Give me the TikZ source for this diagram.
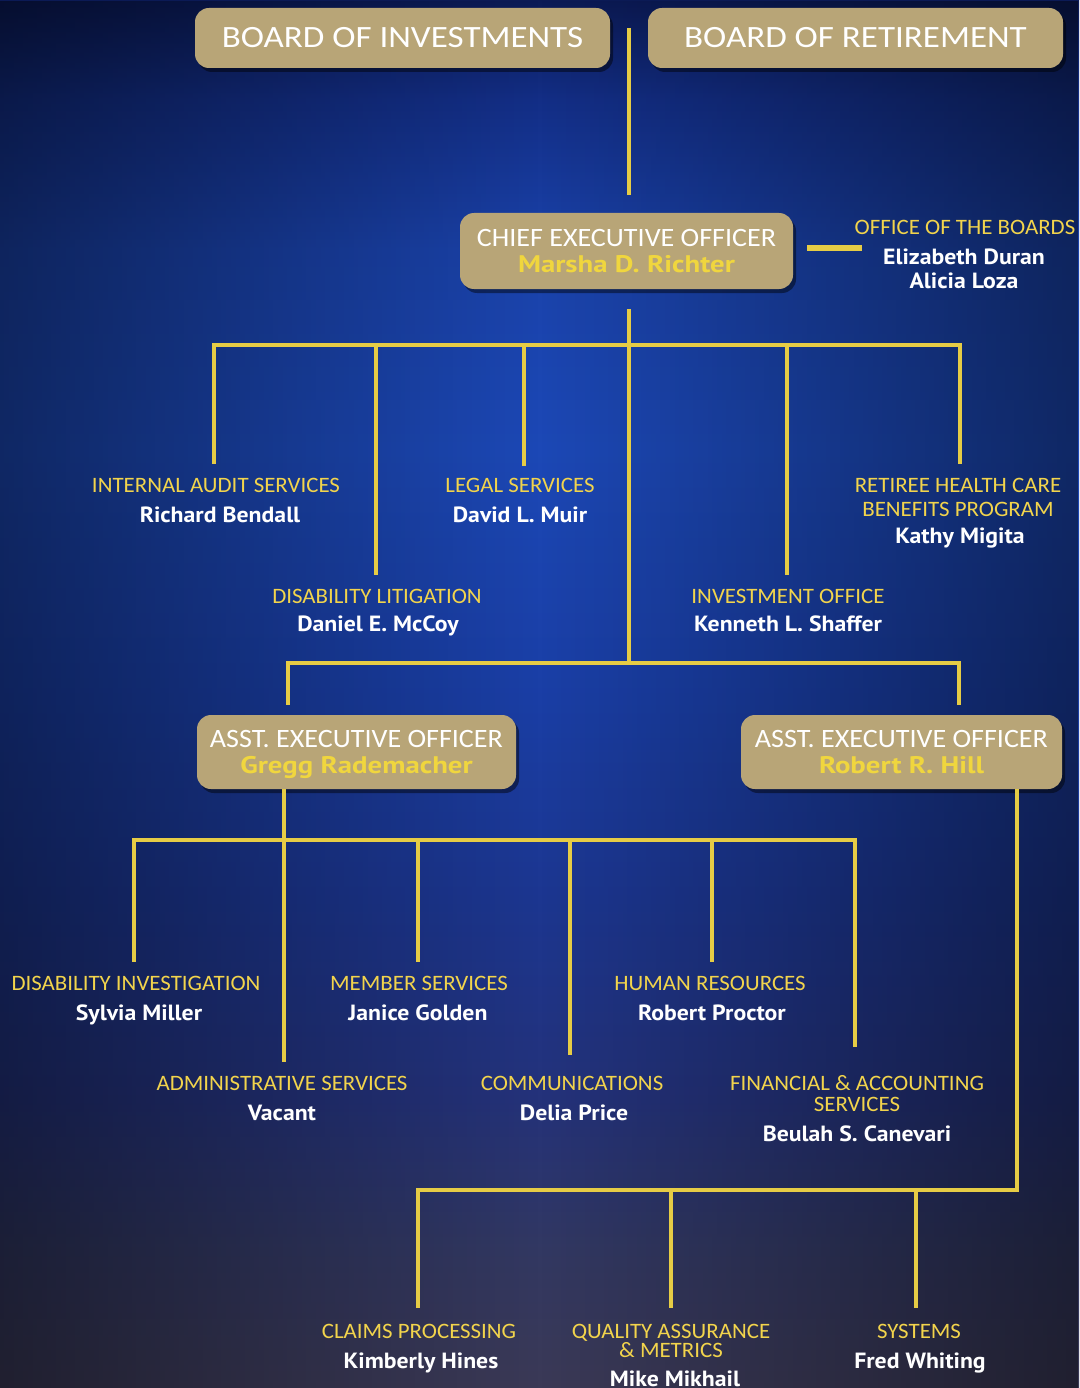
\documentclass[tikz,border=0pt]{standalone}
\usepackage{fontspec}
\setmainfont{Carlito}
\newfontfamily\namefam[FakeStretch=1.08]{PT Sans}
\newfontfamily\boxnamefam[FakeStretch=1.2]{PT Sans}
\newfontfamily\bigfam[FakeStretch=1.13]{Carlito}
\newfontfamily\midfam[FakeStretch=1.06]{Carlito}
\newfontfamily\ttlfam[FakeStretch=1.04]{Carlito}
\usetikzlibrary{shadows,fadings}
\definecolor{gold}{HTML}{B8A577}
\definecolor{lineyel}{HTML}{E6CC45}
\definecolor{txtyel}{HTML}{F2D44C}
\definecolor{nameyel}{HTML}{F0D63E}
\definecolor{bgA}{HTML}{3B3956}
\definecolor{bgB}{HTML}{323862}
\definecolor{bgC}{HTML}{24327A}
\definecolor{bgD}{HTML}{1C3690}
\definecolor{bgE}{HTML}{1A3EA5}
\definecolor{bgF}{HTML}{1C48B6}
\definecolor{bgG}{HTML}{1A42AA}
\definecolor{bgH}{HTML}{132E86}
\definecolor{bgI}{HTML}{0B1A55}
\pgfdeclareverticalshading{bgv}{100bp}{color(0bp)=(bgA); color(25bp)=(bgA); color(30bp)=(bgB); color(35.4bp)=(bgC); color(42.6bp)=(bgD); color(49.8bp)=(bgE); color(58.8bp)=(bgF); color(66bp)=(bgG); color(71.4bp)=(bgH); color(75bp)=(bgI); color(100bp)=(bgI)}
\tikzfading[name=sides, left color=transparent!55, right color=transparent!55, middle color=transparent!100]
\begin{document}
\begin{tikzpicture}[x=1pt,y=-1pt,
  box/.style={fill=gold, rounded corners=14pt, inner sep=0pt, align=center,
    drop shadow={shadow xshift=3pt, shadow yshift=-4pt, opacity=0.45, fill=black}},
  bigttl/.style={text=white, font=\bigfam\fontsize{31}{32}\selectfont},
  offbox/.style={box, text depth=0pt, font=\midfam\fontsize{26.5}{25.5}\selectfont},
  conn/.style={draw=lineyel, line width=4pt},
  ttl/.style={anchor=base, inner sep=0pt, text depth=0pt, text=txtyel, font=\ttlfam\fontsize{22}{22}\selectfont},
  nm/.style={anchor=base, inner sep=0pt, text=white, font=\namefam\bfseries\fontsize{22}{22}\selectfont}]
\newcommand\offname[1]{\\{\color{nameyel}\boxnamefam\bfseries\fontsize{24}{24}\selectfont #1}}
\useasboundingbox (0,0) rectangle (1079,1388);
\shade[shading=bgv] (0,0) rectangle (1079,1388);
\fill[black, path fading=sides, fit fading=true] (0,0) rectangle (1079,1388);
% top boxes
\node[box, bigttl, minimum width=415pt, minimum height=60pt] (boi) at (402.5,38) {BOARD OF INVESTMENTS};
\node[box, bigttl, minimum width=415pt, minimum height=60pt] (bor) at (855.5,38) {BOARD OF RETIREMENT};
\node[offbox, minimum width=333pt, minimum height=76pt] (ceo) at (626.5,251)
  {{\color{white}CHIEF EXECUTIVE OFFICER}\offname{Marsha D. Richter}};
\coordinate (btop) at (629,28);
\draw[conn, shorten >=18pt] (btop) -- (ceo.north -| btop);
% office of the boards
\coordinate (obj) at (862,248);
\draw[draw=lineyel, line width=6pt, shorten <=14pt] (ceo.east |- obj) -- (obj);
\node[ttl] (ob) at (965,235) {OFFICE OF THE BOARDS};
\node[nm] (ob-n1) at (964,265) {Elizabeth Duran};
\node[nm] (ob-n2) at (964,288) {Alicia Loza};
% level 1
\node[ttl] (ias) at (216,492) {INTERNAL AUDIT SERVICES};
\node[nm] (ias-n) at (220,522) {Richard Bendall};
\node[ttl] (legal) at (520,492) {LEGAL SERVICES};
\node[nm] (legal-n) at (520,522) {David L. Muir};
\node[ttl] (rhc) at (958,492) {RETIREE HEALTH CARE};
\node[ttl] (rhc-2) at (958,516) {BENEFITS PROGRAM};
\node[nm] (rhc-n) at (960,543) {Kathy Migita};
\node[ttl] (dl) at (377,603) {DISABILITY LITIGATION};
\node[nm] (dl-n) at (378,631) {Daniel E. McCoy};
\node[ttl] (inv) at (788,603) {INVESTMENT OFFICE};
\node[nm] (inv-n) at (788,631) {Kenneth L. Shaffer};
\coordinate (bus1) at (629,345);
\coordinate (bus2) at (629,663);
\draw[conn, shorten <=14pt, shorten >=14pt] (ias.north -| 214,0) -- (214,345) -- (960,345) -- (rhc.north -| 960,0);
\draw[conn, shorten >=14pt] (bus1 -| 376,0) -- (dl.north -| 376,0);
\draw[conn, shorten >=12pt] (bus1 -| 524,0) -- (legal.north -| 524,0);
\draw[conn, shorten >=14pt] (bus1 -| 787,0) -- (inv.north -| 787,0);
\draw[conn, shorten <=20pt] (ceo.south -| bus1) -- (bus2);
% AEO boxes
\node[offbox, minimum width=319pt, minimum height=74pt] (aeoL) at (356.5,752)
  {{\color{white}ASST. EXECUTIVE OFFICER}\offname{Gregg Rademacher}};
\node[offbox, minimum width=321pt, minimum height=74pt] (aeoR) at (901.5,752)
  {{\color{white}ASST. EXECUTIVE OFFICER}\offname{Robert R. Hill}};
\draw[conn, shorten <=10pt, shorten >=10pt] ([xshift=-69pt]aeoL.north) -- ([xshift=-69pt]aeoL.north |- bus2) -- ([xshift=57pt]aeoR.north |- bus2) -- ([xshift=57pt]aeoR.north);
% level 2
\node[ttl] (di) at (136,990) {DISABILITY INVESTIGATION};
\node[nm] (di-n) at (139,1020) {Sylvia Miller};
\node[ttl] (ms) at (419,990) {MEMBER SERVICES};
\node[nm] (ms-n) at (418,1020) {Janice Golden};
\node[ttl] (hr) at (710,990) {HUMAN RESOURCES};
\node[nm] (hr-n) at (712,1020) {Robert Proctor};
\node[ttl] (as) at (282,1090) {ADMINISTRATIVE SERVICES};
\node[nm] (as-n) at (282,1120) {Vacant};
\node[ttl] (com) at (572,1090) {COMMUNICATIONS};
\node[nm] (com-n) at (574,1120) {Delia Price};
\node[ttl] (fa) at (857,1090) {FINANCIAL \& ACCOUNTING};
\node[ttl] (fa-2) at (857,1111) {SERVICES};
\node[nm] (fa-n) at (857,1141) {Beulah S. Canevari};
\coordinate (bus3) at (284,840);
\draw[conn, shorten >=14pt] (aeoL.south -| 284,0) -- (as.north -| 284,0);
\draw[conn, shorten <=14pt, shorten >=28pt] (di.north -| 134,0) -- (134,840) -- (855,840) -- (fa.north -| 855,0);
\draw[conn, shorten >=14pt] (bus3 -| 418,0) -- (ms.north -| 418,0);
\draw[conn, shorten >=21pt] (bus3 -| 570,0) -- (com.north -| 570,0);
\draw[conn, shorten >=14pt] (bus3 -| 712,0) -- (hr.north -| 712,0);
% level 3
\node[ttl] (cp) at (419,1338) {CLAIMS PROCESSING};
\node[nm] (cp-n) at (421,1368) {Kimberly Hines};
\node[ttl] (qa) at (671,1338) {QUALITY ASSURANCE};
\node[ttl] (qa-2) at (671,1357) {\& METRICS};
\node[nm] (qa-n) at (675,1386) {Mike Mikhail};
\node[ttl] (sys) at (919,1338) {SYSTEMS};
\node[nm] (sys-n) at (920,1368) {Fred Whiting};
\coordinate (bus4) at (1017,1190);
\draw[conn, shorten >=16pt] (aeoR.south -| bus4) -- (bus4) -- (bus4 -| 418,0) -- (cp.north -| 418,0);
\draw[conn, shorten >=16pt] (bus4 -| 671,0) -- (qa.north -| 671,0);
\draw[conn, shorten >=16pt] (bus4 -| 916,0) -- (sys.north -| 916,0);
\end{tikzpicture}
\end{document}
